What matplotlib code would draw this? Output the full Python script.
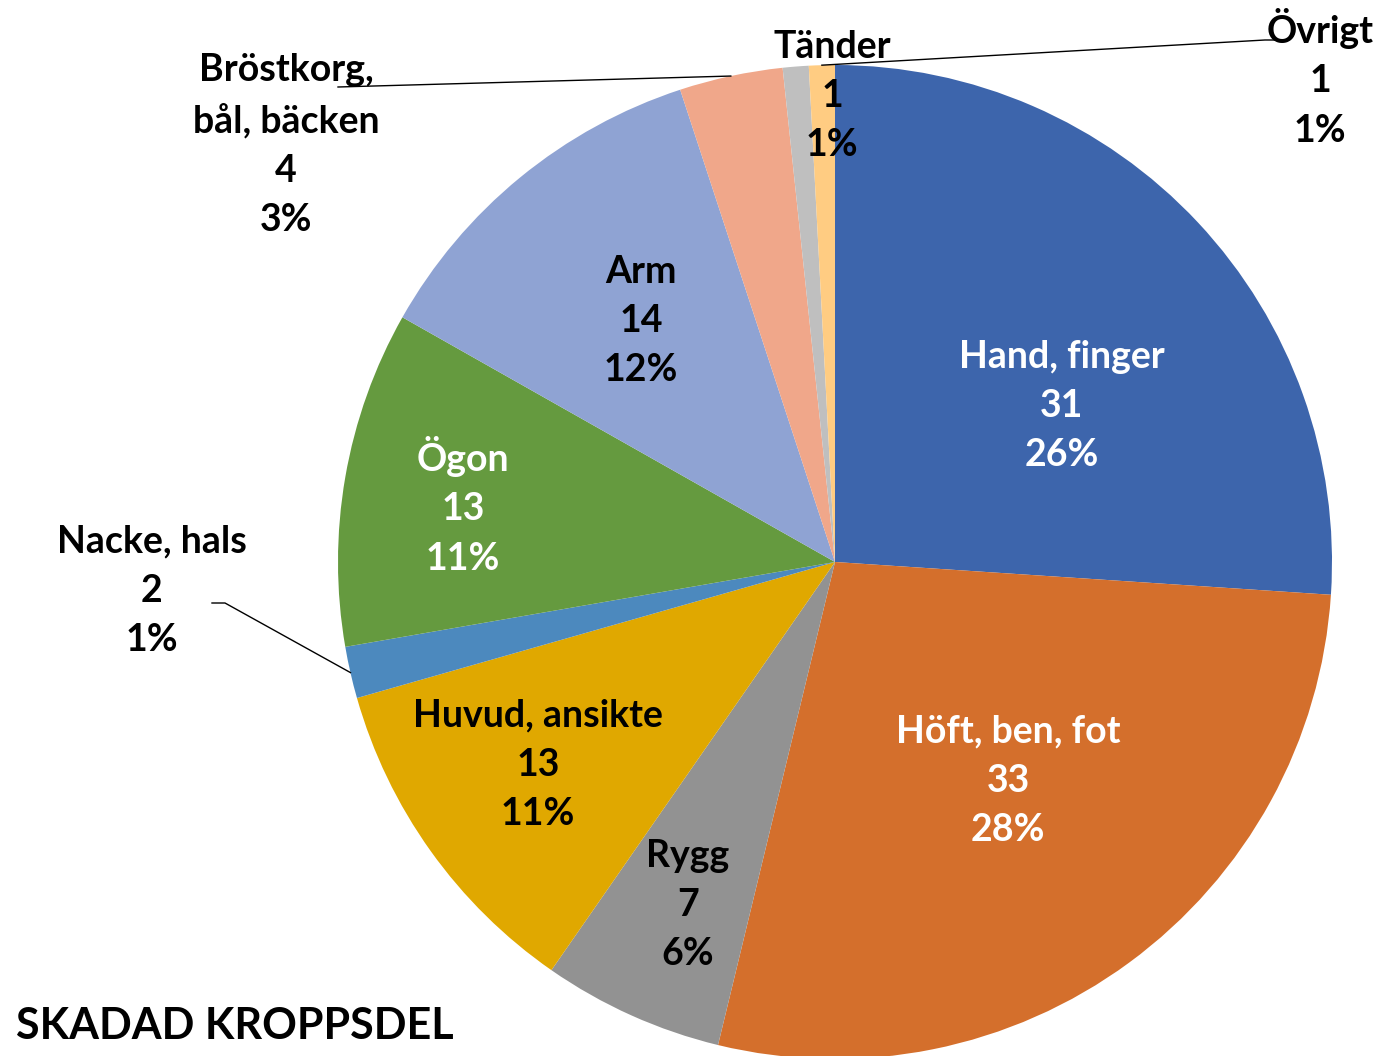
import matplotlib

matplotlib.use("Agg")
import matplotlib.pyplot as plt
import numpy as np

# data
parts = ["Hand, finger", "Höft, ben, fot", "Rygg", "Huvud, ansikte", "Nacke, hals",
         "Ögon", "Arm", "Bröstkorg,\nbål, bäcken", "Tänder", "Övrigt"]
counts = [31, 33, 7, 13, 2, 13, 14, 4, 1, 1]
pct_labels = ["26%", "28%", "6%", "11%", "1%", "11%", "12%", "3%", "1%", "1%"]
colors = ["#3D65AC", "#D46F2C", "#929292", "#E0A800", "#4C89BE",
          "#659A3F", "#8FA3D3", "#F0A78A", "#BFBFBF", "#FFCC82"]
text_colors = ["white", "white", "black", "black", "black",
               "white", "black", "black", "black", "black"]

# label centres in image pixels (1378x1056)
label_px = [(1062, 406), (1008, 781), (688, 905), (538, 765), (152, 591),
            (463, 506), (641, 321), (286, 145), (832, 96), (1320, 78)]

W, H = 1378, 1056
CX, CY, R = 835, 562, 497

plt.rcParams["font.family"] = ["Lato", "DejaVu Sans"]
fig = plt.figure(figsize=(W / 100, H / 100), dpi=100)
ax = fig.add_axes([(CX - R) / W, (H - CY - R) / H, 2 * R / W, 2 * R / H])

wedges, _ = ax.pie(counts, colors=colors, startangle=90, counterclock=False,
                   radius=1, wedgeprops=dict(linewidth=0))
ax.set_xlim(-1, 1)
ax.set_ylim(-1, 1)
ax.axis("off")


def to_data(px, py):
    return (px - CX) / R, (CY - py) / R


for i, name in enumerate(parts):
    x, y = to_data(*label_px[i])
    ax.text(x, y, f"{name}\n{counts[i]}\n{pct_labels[i]}", ha="center", va="center",
            fontsize=27, fontweight="bold", color=text_colors[i],
            linespacing=1.55, clip_on=False)


# leader lines to the small outside slices
def leader(i, start_px, knee_px=None):
    w = wedges[i]
    th = np.deg2rad((w.theta1 + w.theta2) / 2)
    pts = [to_data(*start_px)]
    if knee_px is not None:
        pts.append(to_data(*knee_px))
    pts.append((np.cos(th), np.sin(th)))
    xs, ys = zip(*pts)
    ax.plot(xs, ys, color="black", linewidth=1, clip_on=False)


leader(4, (212, 603), (225, 603))
leader(7, (338, 87))
leader(9, (1288, 40), (1265, 40))

fig.text(16 / W, 1 - 1026 / H, "SKADAD KROPPSDEL", ha="left", va="center",
         fontsize=31, fontweight="bold", color="black")

fig.savefig("out.png", dpi=100)
